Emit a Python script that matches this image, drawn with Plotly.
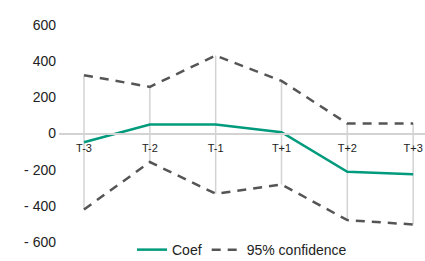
import plotly.graph_objects as go

categories = ["T-3", "T-2", "T-1", "T+1", "T+2", "T+3"]
coef = [-48, 50, 50, 7, -212, -226]
upper = [322, 258, 431, 291, 55, 55]
lower = [-420, -158, -333, -282, -479, -503]
ytick_vals = [600, 400, 200, 0, -200, -400, -600]
ytick_text = ["600", "400", "200", "0", "- 200", "- 400", "- 600"]

FONT = "Liberation Sans Narrow, Arial Narrow, Liberation Sans, sans-serif"
GREEN = "#009a7c"
DASH = "#555555"
GRID = "#d3d3d3"

fig = go.Figure()

# vertical range lines (lower -> upper)
fig.add_trace(go.Scatter(
    x=categories, y=lower, mode="markers",
    marker=dict(size=0.1, color="rgba(0,0,0,0)"),
    error_y=dict(type="data", symmetric=False,
                 array=[u - l for u, l in zip(upper, lower)],
                 arrayminus=[0] * len(lower),
                 width=0, thickness=1.5, color=GRID),
    showlegend=False, hoverinfo="skip"))

fig.add_trace(go.Scatter(
    x=categories, y=coef, mode="lines", name="Coef",
    line=dict(color=GREEN, width=2.5)))

fig.add_trace(go.Scatter(
    x=categories, y=upper, mode="lines", name="95% confidence",
    legendgroup="ci",
    line=dict(color=DASH, width=2.5, dash="9px,7px")))
fig.add_trace(go.Scatter(
    x=categories, y=lower, mode="lines", name="95% confidence",
    legendgroup="ci", showlegend=False,
    line=dict(color=DASH, width=2.5, dash="9px,7px")))

fig.update_layout(
    width=425, height=261,
    margin=dict(l=59, r=0, t=25, b=19, autoexpand=False),
    paper_bgcolor="white", plot_bgcolor="white",
    font=dict(family=FONT, size=14, color="#222222"),
    showlegend=True,
    legend=dict(orientation="h", x=0.5, xanchor="center", y=-0.037,
                yanchor="middle", font=dict(size=14, family=FONT),
                bgcolor="rgba(0,0,0,0)", tracegroupgap=0),
    xaxis=dict(type="category", range=[-0.38, 5.18],
               anchor="free", position=0.5,
               showline=True, linecolor=GRID, linewidth=1.5,
               showgrid=False, ticks="", zeroline=False,
               ticklabeloverflow="allow", ticklabelstandoff=5,
               tickfont=dict(size=11, family=FONT, color="#222222")),
    yaxis=dict(range=[-600, 600], tickvals=ytick_vals, ticktext=ytick_text,
               showgrid=False, zeroline=False, showline=False, ticks="",
               ticklabelstandoff=2,
               tickfont=dict(size=14, family=FONT, color="#222222")),
)

fig.write_html(
    "out.html",
    config={"displayModeBar": False},
    post_script="document.body.style.margin='0';"
                "document.documentElement.style.overflow='hidden';",
)
